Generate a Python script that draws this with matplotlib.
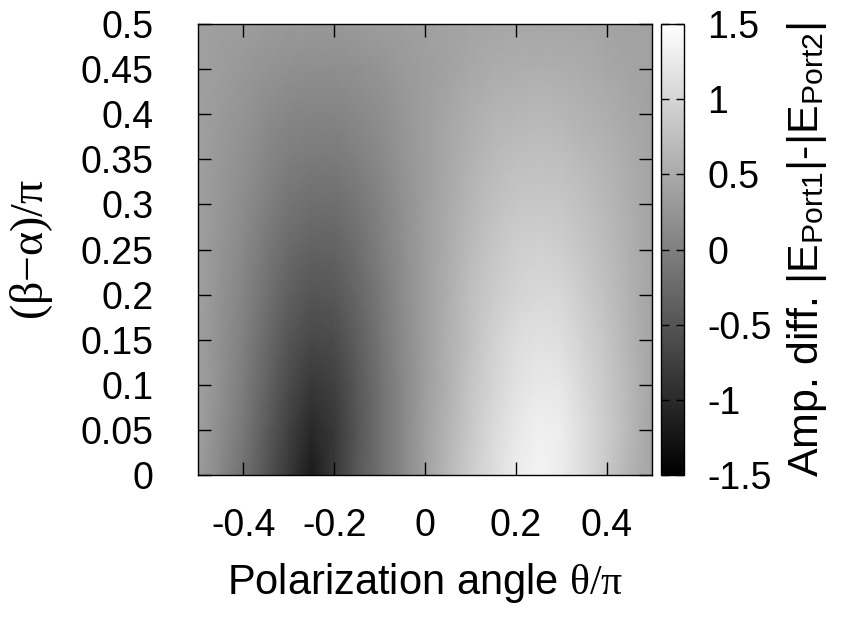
import numpy as np
import matplotlib
matplotlib.use("Agg")
import matplotlib.pyplot as plt

# polarization angle theta/pi (columns) and phase difference (beta-alpha)/pi (rows)
theta = [-0.5, -0.45, -0.4, -0.35, -0.3, -0.25, -0.2, -0.15, -0.1, -0.05, 0.0,
         0.05, 0.1, 0.15, 0.2, 0.25, 0.3, 0.35, 0.4, 0.45, 0.5]
phase = [0.0, 0.05, 0.1, 0.15, 0.2, 0.25, 0.3, 0.35, 0.4, 0.45, 0.5]

# amplitude difference |E_Port1|-|E_Port2|, one row per phase value
row_000 = [0.34, 0.10, -0.18, -0.50, -0.84, -1.19, -0.84, -0.46, -0.18, 0.10, 0.38,
           0.66, 0.90, 1.09, 1.28, 1.37, 1.28, 1.09, 0.85, 0.62, 0.43]
row_005 = [0.38, 0.15, -0.09, -0.42, -0.75, -1.03, -0.84, -0.50, -0.18, 0.10, 0.38,
           0.62, 0.85, 1.06, 1.23, 1.32, 1.28, 1.09, 0.90, 0.66, 0.43]
row_010 = [0.38, 0.19, -0.04, -0.32, -0.61, -0.84, -0.75, -0.46, -0.18, 0.10, 0.36,
           0.57, 0.81, 0.99, 1.16, 1.23, 1.21, 1.04, 0.85, 0.66, 0.43]
row_015 = [0.38, 0.19, 0.01, -0.25, -0.50, -0.65, -0.61, -0.39, -0.14, 0.12, 0.36,
           0.57, 0.76, 0.95, 1.09, 1.14, 1.11, 0.97, 0.81, 0.62, 0.43]
row_020 = [0.38, 0.22, 0.05, -0.16, -0.37, -0.50, -0.46, -0.30, -0.09, 0.15, 0.36,
           0.55, 0.74, 0.88, 0.99, 1.04, 1.02, 0.90, 0.76, 0.59, 0.43]
row_025 = [0.38, 0.24, 0.10, -0.09, -0.25, -0.35, -0.35, -0.21, -0.02, 0.17, 0.36,
           0.52, 0.69, 0.83, 0.92, 0.95, 0.92, 0.83, 0.71, 0.57, 0.43]
row_030 = [0.38, 0.26, 0.15, 0.01, -0.14, -0.21, -0.21, -0.11, 0.03, 0.19, 0.36,
           0.50, 0.64, 0.76, 0.83, 0.85, 0.83, 0.76, 0.66, 0.55, 0.43]
row_035 = [0.38, 0.29, 0.19, 0.08, -0.02, -0.06, -0.06, 0.01, 0.10, 0.24, 0.36,
           0.48, 0.59, 0.69, 0.74, 0.76, 0.74, 0.69, 0.62, 0.52, 0.43]
row_040 = [0.38, 0.31, 0.24, 0.15, 0.08, 0.05, 0.05, 0.10, 0.17, 0.26, 0.36,
           0.45, 0.55, 0.62, 0.64, 0.66, 0.64, 0.59, 0.55, 0.48, 0.41]
row_045 = [0.38, 0.34, 0.29, 0.24, 0.19, 0.17, 0.17, 0.19, 0.24, 0.31, 0.36,
           0.41, 0.48, 0.52, 0.55, 0.55, 0.55, 0.52, 0.48, 0.43, 0.41]
row_050 = [0.38, 0.36, 0.34, 0.31, 0.29, 0.29, 0.29, 0.31, 0.34, 0.36, 0.38,
           0.41, 0.43, 0.45, 0.45, 0.45, 0.45, 0.45, 0.43, 0.41, 0.41]

xticks = [-0.4, -0.2, 0.0, 0.2, 0.4]
xticklabels = ['-0.4', '-0.2', '0', '0.2', '0.4']
yticks = [0.0, 0.05, 0.1, 0.15, 0.2, 0.25, 0.3, 0.35, 0.4, 0.45, 0.5]
yticklabels = ['0', '0.05', '0.1', '0.15', '0.2', '0.25', '0.3', '0.35', '0.4', '0.45', '0.5']
cbticks = [-1.5, -1.0, -0.5, 0.0, 0.5, 1.0, 1.5]
cbticklabels = ['-1.5', '-1', '-0.5', '0', '0.5', '1', '1.5']

plt.rcParams['font.family'] = ['Liberation Sans', 'DejaVu Sans']
plt.rcParams['axes.unicode_minus'] = False
plt.rcParams['mathtext.fontset'] = 'custom'
plt.rcParams['mathtext.rm'] = 'Liberation Serif'
plt.rcParams['mathtext.it'] = 'Liberation Serif:italic'
plt.rcParams['mathtext.sf'] = 'Liberation Sans'

FS = 27      # tick labels
FS_LAB = 30  # axis labels


def main():
    amp = np.array([row_000, row_005, row_010, row_015, row_020, row_025,
                    row_030, row_035, row_040, row_045, row_050])
    X, Y = np.meshgrid(theta, phase)

    fig = plt.figure(figsize=(8.42, 6.31), dpi=100)
    ax = fig.add_axes([198 / 842, 156 / 631, 454 / 842, 451 / 631])
    cax = fig.add_axes([661 / 842, 156 / 631, 23 / 842, 451 / 631])

    mesh = ax.pcolormesh(X, Y, amp, cmap='gray', vmin=-1.5, vmax=1.5,
                         shading='gouraud', rasterized=True)
    ax.set_xlim(-0.5, 0.5)
    ax.set_ylim(0, 0.5)

    ax.set_xticks(xticks)
    ax.set_xticklabels(xticklabels)
    ax.set_yticks(yticks)
    ax.set_yticklabels(yticklabels)
    ax.tick_params(direction='in', length=9.5, width=1, top=True, right=True,
                   labelsize=FS, color='black')
    ax.tick_params(axis='x', pad=24)
    ax.tick_params(axis='y', pad=32)
    for s in ax.spines.values():
        s.set_linewidth(1)

    ax.set_xlabel(r'Polarization angle $\mathrm{\theta/\pi}$', fontsize=FS_LAB)
    ax.xaxis.set_label_coords(0.5, -0.19)
    ax.set_ylabel(r'$\mathrm{(\beta{-}\alpha)/\pi}$', fontsize=33)
    ax.yaxis.set_label_coords(-0.315, 0.5)

    cb = fig.colorbar(mesh, cax=cax, ticks=cbticks)
    cb.ax.set_yticklabels(cbticklabels)
    cb.outline.set_linewidth(1)
    cax.tick_params(direction='in', left=True, right=True, length=6, width=1,
                    labelsize=FS, pad=17)
    cb.set_label(r'Amp. diff. |E$_{\mathsf{Port1}}$|-|E$_{\mathsf{Port2}}$|',
                 fontsize=31)
    cax.yaxis.set_label_coords(5.4, 0.5)

    fig.savefig('out.png', dpi=100)
    return


if __name__ == "__main__":
    main()
